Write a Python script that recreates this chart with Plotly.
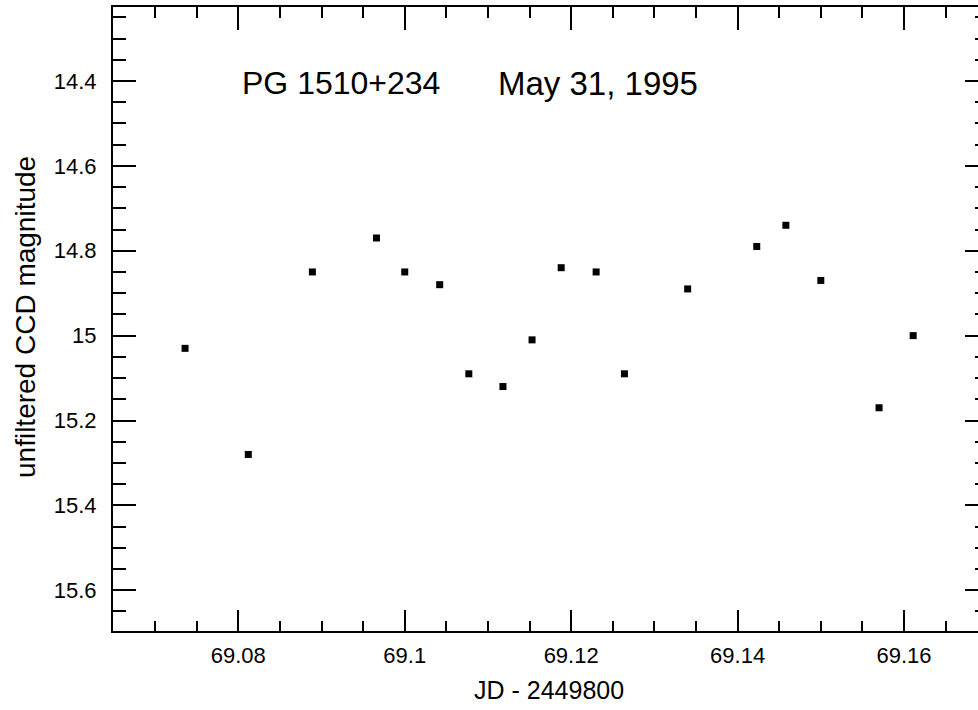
import plotly.graph_objects as go

# Data
jd = [69.0736, 69.0812, 69.0889, 69.0966, 69.1000, 69.1042, 69.1077, 69.1118, 69.1153,
      69.1188, 69.1230, 69.1264, 69.1340, 69.1423, 69.1458, 69.1500, 69.1570, 69.1611]
mag = [15.03, 15.28, 14.85, 14.77, 14.85, 14.88, 15.09, 15.12, 15.01,
       14.84, 14.85, 15.09, 14.89, 14.79, 14.74, 14.87, 15.17, 15.00]

x_tick_vals = [69.08, 69.10, 69.12, 69.14, 69.16]
x_tick_labels = ["69.08", "69.1", "69.12", "69.14", "69.16"]
y_tick_vals = [14.4, 14.6, 14.8, 15.0, 15.2, 15.4, 15.6]
y_tick_labels = ["14.4", "14.6", "14.8", "15", "15.2", "15.4", "15.6"]

x_range = [69.06494, 69.16889]
y_range = [15.696, 14.2257]

FONT = "Liberation Sans, Arial, Helvetica, sans-serif"

fig = go.Figure()
fig.add_trace(go.Scatter(
    x=jd, y=mag, mode="markers",
    marker=dict(symbol="square", size=7, color="black", line=dict(width=0)),
    showlegend=False, hoverinfo="x+y",
))
# helper trace for top/right mirror axes
fig.add_trace(go.Scatter(x=[], y=[], xaxis="x2", yaxis="y2", showlegend=False))

common_minor_x = dict(dtick=0.005, tick0=69.0, ticks="inside", tickcolor="black", tickwidth=1.5)
common_minor_y = dict(dtick=0.05, tick0=14.0, ticks="inside", tickcolor="black", tickwidth=1.5)

fig.update_layout(
    width=978, height=710,
    margin=dict(l=113, r=0, t=7, b=79),
    paper_bgcolor="white", plot_bgcolor="white",
    font=dict(family=FONT, color="black"),
    xaxis=dict(
        range=x_range, tickvals=x_tick_vals, ticktext=x_tick_labels,
        ticks="inside", ticklen=21, tickwidth=1.5, tickcolor="black",
        minor=dict(ticklen=10, **common_minor_x),
        showline=True, linecolor="black", linewidth=2,
        showgrid=False, zeroline=False,
        tickfont=dict(size=22, family=FONT, color="black"),
        ticklabelstandoff=4,
    ),
    yaxis=dict(
        range=y_range, tickvals=y_tick_vals, ticktext=y_tick_labels,
        ticks="inside", ticklen=23, tickwidth=1.5, tickcolor="black",
        minor=dict(ticklen=13, **common_minor_y),
        showline=True, linecolor="black", linewidth=2,
        showgrid=False, zeroline=False,
        tickfont=dict(size=22, family=FONT, color="black"),
        ticklabelstandoff=10,
    ),
    xaxis2=dict(
        overlaying="x", side="top", range=x_range, tickvals=x_tick_vals,
        showticklabels=False,
        ticks="inside", ticklen=23, tickwidth=1.5, tickcolor="black",
        minor=dict(ticklen=11, **common_minor_x),
        showline=True, linecolor="black", linewidth=1.5,
        showgrid=False, zeroline=False,
    ),
    yaxis2=dict(
        overlaying="y", side="right", range=y_range, tickvals=y_tick_vals,
        showticklabels=False,
        ticks="inside", ticklen=13, tickwidth=1.5, tickcolor="black",
        minor=dict(ticklen=3, **common_minor_y),
        showline=False, showgrid=False, zeroline=False,
    ),
    annotations=[
        dict(text="PG 1510+234", x=69.0802, y=14.405, xref="x", yref="y",
             xanchor="left", yanchor="middle", showarrow=False,
             font=dict(size=32, family=FONT, color="black")),
        dict(text="May 31, 1995", x=69.1232, y=14.405, xref="x", yref="y",
             xanchor="center", yanchor="middle", showarrow=False,
             font=dict(size=33, family=FONT, color="black")),
        dict(text="JD - 2449800", x=(549 - 113) / 865, y=0, xref="paper", yref="paper",
             xanchor="center", yanchor="middle", yshift=-59, showarrow=False,
             font=dict(size=25, family=FONT, color="black")),
        dict(text="unfiltered CCD magnitude", x=0, y=0.5, xref="paper", yref="paper",
             xanchor="center", yanchor="middle", xshift=-88, yshift=2, textangle=-90,
             showarrow=False,
             font=dict(size=28, family=FONT, color="black")),
    ],
)

fig.write_html("out.html", config={"displayModeBar": False},
               post_script=["document.body.style.margin='0';"])
